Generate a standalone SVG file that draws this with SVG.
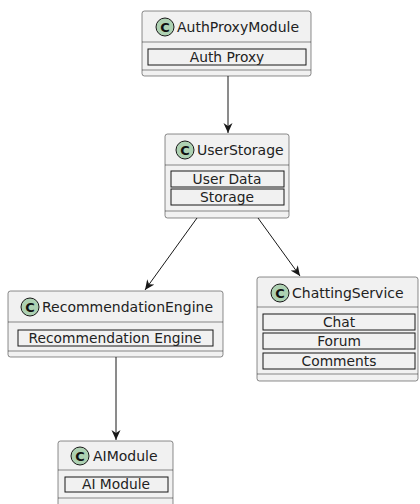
<svg xmlns="http://www.w3.org/2000/svg" width="420" height="504" viewBox="0 0 420 504">
<style>
.box{fill:#F1F1F1;stroke:#181818;stroke-width:0.5}
.sep{stroke:#181818;stroke-width:0.5}
.fld{fill:#F1F1F1;stroke:#181818;stroke-width:1}
.circ{fill:#ADD1B2;stroke:#181818;stroke-width:1}
.c{font-family:"DejaVu Sans",sans-serif;font-size:13px;font-weight:bold;fill:#111;text-anchor:middle}
.h{font-family:"DejaVu Sans",sans-serif;font-size:14px;fill:#222}
.f{font-family:"DejaVu Sans",sans-serif;font-size:13.8px;fill:#222;text-anchor:middle}
.edge{stroke:#181818;stroke-width:1;fill:none}
</style>
<defs>
<marker id="ah" viewBox="0 0 10 10" refX="10" refY="5" markerWidth="10" markerHeight="10" markerUnits="userSpaceOnUse" orient="auto">
<path d="M0,0.5 L10,5 L0,9.5 L3,5 Z" fill="#181818"/>
</marker>
</defs>
<g id="connectors">
<line class="edge" x1="228" y1="76" x2="228" y2="133" marker-end="url(#ah)"/>
<line class="edge" x1="197" y1="218" x2="145" y2="290" marker-end="url(#ah)"/>
<line class="edge" x1="258" y1="218" x2="300" y2="276" marker-end="url(#ah)"/>
<line class="edge" x1="116" y1="357" x2="116" y2="440" marker-end="url(#ah)"/>
</g>
<g id="AuthProxyModule">
<rect class="box" x="142" y="11" width="169" height="65" rx="2.5"/>
<circle class="circ" cx="165" cy="27" r="9"/>
<text class="c" x="165" y="32">C</text>
<text class="h" x="177" y="32">AuthProxyModule</text>
<line class="sep" x1="142" y1="42" x2="311" y2="42"/>
<rect class="fld" x="148" y="49" width="158" height="16"/>
<text class="f" x="227" y="62">Auth Proxy</text>
<line class="sep" x1="142" y1="70" x2="311" y2="70"/>
</g>
<g id="UserStorage">
<rect class="box" x="165" y="134" width="124" height="84" rx="2.5"/>
<circle class="circ" cx="185" cy="150" r="9"/>
<text class="c" x="185" y="155">C</text>
<text class="h" x="197" y="155">UserStorage</text>
<line class="sep" x1="165" y1="165" x2="289" y2="165"/>
<rect class="fld" x="171" y="171" width="113" height="16"/>
<text class="f" x="227" y="184">User Data</text>
<rect class="fld" x="171" y="189" width="113" height="16"/>
<text class="f" x="227" y="202">Storage</text>
<line class="sep" x1="165" y1="211" x2="289" y2="211"/>
</g>
<g id="RecommendationEngine">
<rect class="box" x="8" y="291" width="215" height="66" rx="2.5"/>
<circle class="circ" cx="30" cy="307" r="9"/>
<text class="c" x="30" y="312">C</text>
<text class="h" x="42" y="312">RecommendationEngine</text>
<line class="sep" x1="8" y1="322" x2="223" y2="322"/>
<rect class="fld" x="18" y="330" width="195" height="16"/>
<text class="f" x="115" y="343">Recommendation Engine</text>
<line class="sep" x1="8" y1="351" x2="223" y2="351"/>
</g>
<g id="ChattingService">
<rect class="box" x="257" y="277" width="161" height="104" rx="2.5"/>
<circle class="circ" cx="280" cy="293" r="9"/>
<text class="c" x="280" y="298">C</text>
<text class="h" x="292" y="298">ChattingService</text>
<line class="sep" x1="257" y1="307" x2="418" y2="307"/>
<rect class="fld" x="263" y="314" width="152" height="16"/>
<text class="f" x="339" y="327">Chat</text>
<rect class="fld" x="263" y="333" width="152" height="16"/>
<text class="f" x="339" y="346">Forum</text>
<rect class="fld" x="263" y="353" width="152" height="16"/>
<text class="f" x="339" y="366">Comments</text>
<line class="sep" x1="257" y1="374" x2="418" y2="374"/>
</g>
<g id="AIModule">
<rect class="box" x="58" y="441" width="115" height="70" rx="2.5"/>
<circle class="circ" cx="80" cy="456" r="9"/>
<text class="c" x="80" y="461">C</text>
<text class="h" x="93" y="461">AIModule</text>
<line class="sep" x1="58" y1="470" x2="173" y2="470"/>
<rect class="fld" x="65" y="477" width="103" height="15"/>
<text class="f" x="116" y="489">AI Module</text>
<line class="sep" x1="58" y1="498" x2="173" y2="498"/>
</g>
</svg>
